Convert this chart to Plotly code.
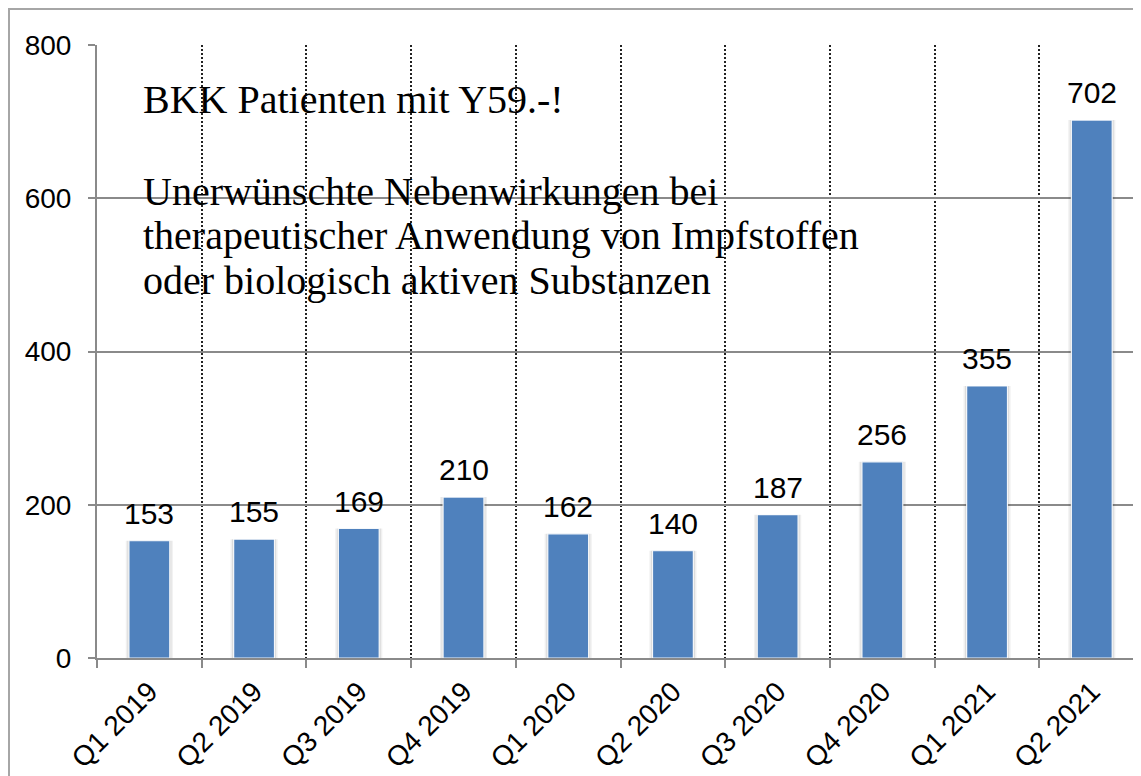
import plotly.graph_objects as go

quarters = ["Q1 2019", "Q2 2019", "Q3 2019", "Q4 2019", "Q1 2020",
            "Q2 2020", "Q3 2020", "Q4 2020", "Q1 2021", "Q2 2021"]
patients = [153, 155, 169, 210, 162, 140, 187, 256, 355, 702]

title_line = "BKK Patienten mit Y59.-!"
desc_lines = [
    "Unerwünschte Nebenwirkungen bei",
    "therapeutischer Anwendung von Impfstoffen",
    "oder biologisch aktiven Substanzen",
]

SANS = "Liberation Sans, Arial, sans-serif"
SERIF = "Liberation Serif, Times New Roman, serif"
GRAY = "#8a8a8a"

# page body has an 8px margin, so the figure is sized to fit the window
OFF = 8
W, H = 1141 - OFF, 776 - OFF
L, T = 97 - OFF, 45 - OFF
PLOT_BOTTOM = 658 - OFF
B = H - PLOT_BOTTOM
PW, PH = W - L, PLOT_BOTTOM - T


def px_x(px):
    # screen pixel -> paper x
    return (px - OFF - L) / PW


def px_y(py):
    # screen pixel -> paper y
    return (PLOT_BOTTOM - (py - OFF)) / PH


fig = go.Figure()

# soft shadow behind bars
for w, a in [(0.45, 0.06), (0.42, 0.09)]:
    fig.add_trace(go.Bar(
        x=quarters, y=patients, width=w,
        marker=dict(color=f"rgba(0,0,0,{a})", line=dict(width=0)),
        hoverinfo="skip", showlegend=False,
    ))

fig.add_trace(go.Bar(
    x=quarters, y=patients, width=0.39,
    marker=dict(color="#4F81BD", line=dict(color="rgba(255,255,255,0.9)", width=1.2)),
    showlegend=False,
))

for q, v in zip(quarters, patients):
    fig.add_annotation(
        x=q, y=v, text=str(v), showarrow=False,
        yanchor="bottom", yshift=9,
        font=dict(family=SANS, size=30, color="black"),
    )

# text block
fig.add_annotation(
    xref="paper", yref="paper", x=px_x(141), y=px_y(100),
    xanchor="left", yanchor="middle", text=title_line, showarrow=False,
    font=dict(family=SERIF, size=40, color="black"),
)
for i, line in enumerate(desc_lines):
    fig.add_annotation(
        xref="paper", yref="paper", x=px_x(141), y=px_y(192 + i * 44),
        xanchor="left", yanchor="middle", text=line, showarrow=False,
        font=dict(family=SERIF, size=40, color="black"),
    )

# outer chart frame (cropped on right/bottom)
fig.add_shape(
    type="rect", xref="paper", yref="paper",
    x0=px_x(9), y0=px_y(9), x1=px_x(1170), y1=px_y(800),
    line=dict(color="#a6a6a6", width=2), layer="below",
)

fig.update_layout(
    width=W, height=H,
    margin=dict(l=L, r=0, t=T, b=B),
    paper_bgcolor="white", plot_bgcolor="white",
    barmode="overlay",
    xaxis=dict(
        type="category", range=[-0.5, 9.47],
        tickson="boundaries", showgrid=True,
        gridcolor="#222222", griddash="2px,2px", gridwidth=1.6,
        showline=True, linecolor=GRAY, linewidth=2,
        ticks="outside", ticklen=8, tickwidth=2, tickcolor=GRAY,
        ticklabelstandoff=4,
        tickangle=-45, tickfont=dict(family=SANS, size=28, color="black"),
    ),
    yaxis=dict(
        range=[0, 800], dtick=200, showgrid=True,
        gridcolor=GRAY, gridwidth=1.5, zeroline=False,
        showline=True, linecolor=GRAY, linewidth=2,
        ticks="outside", ticklen=7, tickwidth=2, tickcolor=GRAY,
        ticklabelstandoff=11,
        tickfont=dict(family=SANS, size=28, color="black"),
    ),
)

fig.write_html("out.html")
